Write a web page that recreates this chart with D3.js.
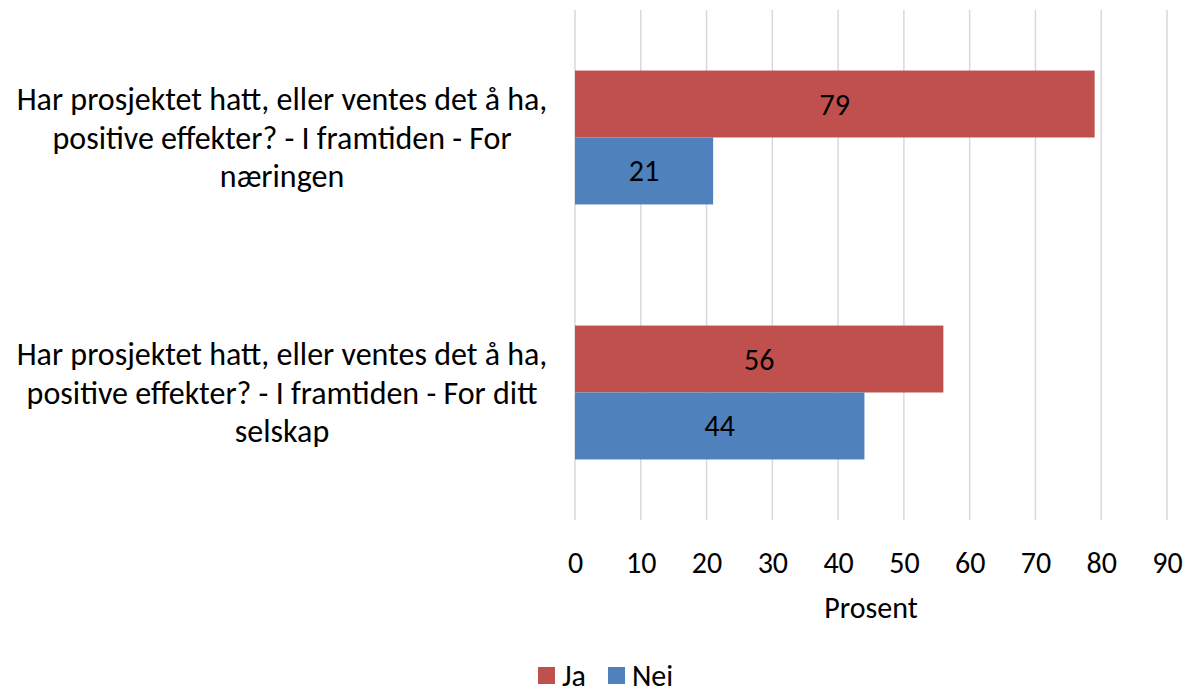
<!DOCTYPE html>
<html>
<head>
<meta charset="utf-8">
<script src="https://cdn.jsdelivr.net/npm/d3@7"></script>
<style>
  body { margin: 0; background: #fff; }
  text { font-family: Carlito, Calibri, Lato, sans-serif; fill: #000; }
</style>
</head>
<body>
<div id="chart"></div>
<script>
var svgWidth = 1186;
var svgHeight = 692;

// data
var categories = [
  ["Har prosjektet hatt, eller ventes det å ha,", "positive effekter? - I framtiden - For", "næringen"],
  ["Har prosjektet hatt, eller ventes det å ha,", "positive effekter? - I framtiden - For ditt", "selskap"]
];
var seriesNames = ["Ja", "Nei"];
var seriesColors = ["#C0504D", "#4F81BD"];
var jaValues = [79, 56];
var neiValues = [21, 44];
var xTicks = [0, 10, 20, 30, 40, 50, 60, 70, 80, 90];

var margin = { top: 10, right: 19, bottom: 172, left: 575 };
var width = svgWidth - margin.left - margin.right;
var height = svgHeight - margin.top - margin.bottom;

var svg = d3.select("#chart")
  .append("svg")
  .attr("width", svgWidth)
  .attr("height", svgHeight);

var chartGroup = svg.append("g")
  .attr("transform", `translate(${margin.left}, ${margin.top})`);

var rows = categories.map(function(c, i) {
  return { idx: i, label: c, values: [jaValues[i], neiValues[i]] };
});

var xScale = d3.scaleLinear()
  .domain([0, 90])
  .range([0, width]);

var yScale = d3.scaleBand()
  .domain(rows.map(d => d.idx))
  .range([0, height])
  .paddingInner(0.475)
  .paddingOuter(0.2375);

var ySub = d3.scaleBand()
  .domain(seriesNames)
  .range([0, yScale.bandwidth()]);

// gridlines
chartGroup.append("g")
  .selectAll("line")
  .data(xTicks)
  .enter()
  .append("line")
  .attr("x1", d => xScale(d))
  .attr("x2", d => xScale(d))
  .attr("y1", 0)
  .attr("y2", height)
  .attr("stroke", "#d9d9d9")
  .attr("stroke-width", 1.5);

// x axis
var bottomAxis = d3.axisBottom(xScale)
  .tickValues(xTicks)
  .tickSize(0)
  .tickPadding(32);

var axisG = chartGroup.append("g")
  .attr("transform", `translate(0, ${height})`)
  .call(bottomAxis);
axisG.select(".domain").remove();
axisG.selectAll("text")
  .style("font-family", "Carlito, Calibri, Lato, sans-serif")
  .style("font-size", "30px")
  .attr("fill", "#000");

// bars
var groups = chartGroup.selectAll(".grp")
  .data(rows)
  .enter()
  .append("g")
  .attr("class", "grp")
  .attr("transform", d => `translate(0, ${yScale(d.idx)})`);

groups.selectAll("rect")
  .data(d => d.values.map((v, j) => ({ name: seriesNames[j], value: v, color: seriesColors[j] })))
  .enter()
  .append("rect")
  .attr("x", 0)
  .attr("y", d => ySub(d.name))
  .attr("width", d => xScale(d.value))
  .attr("height", ySub.bandwidth())
  .attr("fill", d => d.color);

groups.selectAll(".val")
  .data(d => d.values.map((v, j) => ({ name: seriesNames[j], value: v })))
  .enter()
  .append("text")
  .attr("class", "val")
  .attr("x", d => xScale(d.value) / 2)
  .attr("y", d => ySub(d.name) + ySub.bandwidth() / 2)
  .attr("dy", "0.35em")
  .attr("text-anchor", "middle")
  .style("font-size", "30px")
  .text(d => d.value);

// category labels
var lineH = 38.5;
chartGroup.selectAll(".cat")
  .data(rows)
  .enter()
  .append("text")
  .attr("class", "cat")
  .attr("text-anchor", "middle")
  .style("font-size", "32px")
  .each(function(d) {
    var t = d3.select(this);
    var cy = yScale(d.idx) + yScale.bandwidth() / 2;
    var n = d.label.length;
    d.label.forEach(function(line, k) {
      t.append("tspan")
        .attr("x", -293)
        .attr("y", cy + (k - (n - 1) / 2) * lineH)
        .attr("dy", "0.35em")
        .text(line);
    });
  });

// axis title
chartGroup.append("text")
  .attr("x", width / 2)
  .attr("y", height + 87)
  .attr("dy", "0.35em")
  .attr("text-anchor", "middle")
  .style("font-size", "30px")
  .text("Prosent");

// legend
var legendItems = [
  { name: seriesNames[0], color: seriesColors[0], x: 538 },
  { name: seriesNames[1], color: seriesColors[1], x: 608 }
];
var legend = svg.append("g");
legend.selectAll("rect")
  .data(legendItems)
  .enter()
  .append("rect")
  .attr("x", d => d.x)
  .attr("y", 667)
  .attr("width", 17)
  .attr("height", 17)
  .attr("fill", d => d.color);
legend.selectAll("text")
  .data(legendItems)
  .enter()
  .append("text")
  .attr("x", d => d.x + 24)
  .attr("y", 675)
  .attr("dy", "0.35em")
  .style("font-size", "30px")
  .text(d => d.name);
</script>
</body>
</html>
